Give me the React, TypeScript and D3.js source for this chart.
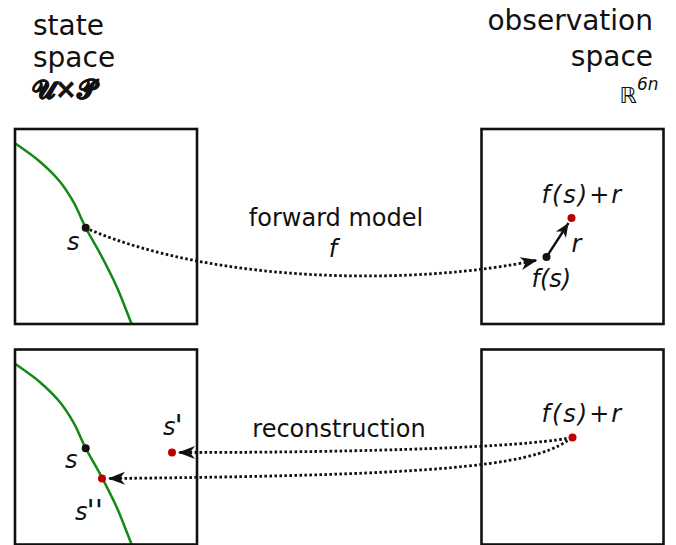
import React from 'react';
import * as d3 from 'd3';

// ---------- data ----------
// panel boxes: column / row in the 2x2 layout
const panels = [
  { id: 'stateTop', col: 0, row: 0 },
  { id: 'obsTop', col: 1, row: 0 },
  { id: 'stateBottom', col: 0, row: 1 },
  { id: 'obsBottom', col: 1, row: 1 },
];

// manifold (green curve) in panel-local units
const manifoldX = [0, 25, 45, 58.3, 70.7, 85, 101.7, 116.7, 124];
const manifoldY = [14.3, 32.7, 52.7, 72.7, 98.7, 124.3, 157.7, 195, 212];

// points: panel, local x, local y, kind
const pointPanel = ['stateTop', 'obsTop', 'obsTop', 'stateBottom', 'stateBottom', 'stateBottom', 'obsBottom'];
const pointName = ['s', 'fs', 'fsr', 's', 'sPrime', 'sDouble', 'fsr'];
const pointX = [70.7, 65, 90, 70.7, 157, 87, 91];
const pointY = [98.7, 128, 89, 98.7, 103, 129, 88];
const pointKind = ['state', 'state', 'obs', 'state', 'obs', 'obs', 'obs'];

// labels (base text + number of primes)
const labelText = ['s', 'f(s)+r', 'r', 'f(s)', 's', 's', 's', 'f(s)+r'];
const labelPrimes = [0, 0, 0, 0, 0, 1, 2, 0];
const labelPanel = ['stateTop', 'obsTop', 'obsTop', 'obsTop', 'stateBottom', 'stateBottom', 'stateBottom', 'obsBottom'];
const labelX = [52, 60, 90, 50, 50, 148, 60, 60];
const labelY = [121, 74, 123, 158, 118, 85, 170, 72];

export default function App() {
  const W = 676, H = 545;
  const boxW = 182, boxH = 195;
  const colX = [15, 481.5];
  const rowY = [129, 349.5];

  const scales: Record<string, { x: d3.ScaleLinear<number, number>; y: d3.ScaleLinear<number, number> }> = {};
  panels.forEach(p => {
    const x0 = colX[p.col], y0 = rowY[p.row];
    scales[p.id] = {
      x: d3.scaleLinear().domain([0, boxW]).range([x0, x0 + boxW]),
      y: d3.scaleLinear().domain([0, boxH]).range([y0, y0 + boxH]),
    };
  });

  const pt = (i: number): [number, number] => {
    const s = scales[pointPanel[i]];
    return [s.x(pointX[i]), s.y(pointY[i])];
  };

  const manifoldPts = manifoldX.map((x, i) => [x, manifoldY[i]] as [number, number]);
  const manifoldPath = (id: string) =>
    d3.line<[number, number]>()
      .x(d => scales[id].x(d[0]))
      .y(d => scales[id].y(d[1]))
      .curve(d3.curveCatmullRom)(manifoldPts) as string;

  const cubic = (p0: [number, number], c1: [number, number], c2: [number, number], p3: [number, number]) => {
    const p = d3.path();
    p.moveTo(p0[0], p0[1]);
    p.bezierCurveTo(c1[0], c1[1], c2[0], c2[1], p3[0], p3[1]);
    return p.toString();
  };

  const sTop = pt(0), fs = pt(1), fsr = pt(2);
  const sP = pt(4), sPP = pt(5), fsrB = pt(6);

  // forward model dotted arrow
  const fwdEnd: [number, number] = [fs[0] - 9, fs[1] + 3];
  const fwd = cubic([sTop[0] + 4, sTop[1] + 2], [sTop[0] + 134, sTop[1] + 57], [fwdEnd[0] - 118, fwdEnd[1] + 25], fwdEnd);
  // reconstruction arrows
  const rec1End: [number, number] = [sP[0] + 6, sP[1]];
  const rec1 = cubic([fsrB[0] - 6, fsrB[1] + 1], [fsrB[0] - 52, fsrB[1] + 9], [fsrB[0] - 190, sP[1]], rec1End);
  const rec2End: [number, number] = [sPP[0] + 6, sPP[1]];
  const rec2 = cubic([fsrB[0] - 5, fsrB[1] + 3], [fsrB[0] - 43, fsrB[1] + 30], [fsrB[0] - 150, sPP[1] - 3], rec2End);
  // residual arrow
  const rEnd: [number, number] = [fsr[0] - 3, fsr[1] + 5];

  const green = '#138a13';
  const red = '#c00000';
  const ink = '#111';
  const font = "'DejaVu Sans', Verdana, sans-serif";

  return (
    <svg width={W} height={H} viewBox={`0 0 ${W} ${H}`} style={{ position: 'absolute', left: 0, top: 0, background: '#fff' }}>
      <defs>
        <marker id="stealth" viewBox="-18 -8 20 16" refX={0} refY={0} markerWidth={20} markerHeight={16}
          markerUnits="userSpaceOnUse" orient="auto">
          <path d="M0,0 L-17,-6.5 L-12,0 L-17,6.5 Z" fill={ink} />
        </marker>
        <marker id="stealthSmall" viewBox="-16 -7 18 14" refX={0} refY={0} markerWidth={18} markerHeight={14}
          markerUnits="userSpaceOnUse" orient="auto">
          <path d="M0,0 L-14,-6 L-10,0 L-14,6 Z" fill={ink} />
        </marker>
        {panels.map(p => (
          <clipPath id={`clip-${p.id}`} key={p.id}>
            <rect x={colX[p.col]} y={rowY[p.row]} width={boxW} height={boxH} />
          </clipPath>
        ))}
      </defs>

      {/* titles */}
      <g fontFamily={font} fontSize={28} fill={ink}>
        <text x={33} y={35}>state</text>
        <text x={33} y={67}>space</text>
        <text x={32} y={98} fontWeight="bold" fontSize={26} stroke={ink} strokeWidth={0.6}>{'\u{1D4E4}\u00D7\u{1D4DF}'}</text>
        <text x={653} y={30} textAnchor="end">observation</text>
        <text x={653} y={66} textAnchor="end">space</text>
        <text x={637} y={103} textAnchor="end" fontSize={22}>{'\u211D'}</text>
        <text x={637} y={90} fontSize={17} fontStyle="italic">6n</text>
      </g>

      {/* manifolds */}
      {['stateTop', 'stateBottom'].map(id => (
        <path key={id} d={manifoldPath(id)} clipPath={`url(#clip-${id})`} fill="none" stroke={green} strokeWidth={2.5} />
      ))}

      {/* boxes */}
      {panels.map(p => (
        <rect key={p.id} x={colX[p.col]} y={rowY[p.row]} width={boxW} height={boxH}
          fill="none" stroke={ink} strokeWidth={2.6} />
      ))}

      {/* dotted arrows */}
      <g fill="none" stroke={ink} strokeWidth={2.8} strokeDasharray="2.6 2.4">
        <path d={fwd} markerEnd="url(#stealth)" />
        <path d={rec1} markerEnd="url(#stealth)" />
        <path d={rec2} markerEnd="url(#stealth)" />
      </g>
      {/* residual arrow */}
      <path d={`M${fs[0]},${fs[1]} L${rEnd[0]},${rEnd[1]}`} stroke={ink} strokeWidth={2.4} markerEnd="url(#stealthSmall)" />

      {/* points */}
      {pointX.map((_, i) => {
        const [x, y] = pt(i);
        return <circle key={i} cx={x} cy={y} r={4} fill={pointKind[i] === 'obs' ? red : ink} />;
      })}

      {/* labels */}
      <g fontFamily={font} fontSize={24} fontStyle="italic" fill={ink}>
        {labelText.map((t, i) => (
          <text key={i} x={scales[labelPanel[i]].x(labelX[i])} y={scales[labelPanel[i]].y(labelY[i])}
            letterSpacing={t.includes('+') ? 2 : 0}>
            {t}
            {labelPrimes[i] > 0 && (
              <tspan fontSize={30} dx={-1} dy={1} letterSpacing={0}>{"'".repeat(labelPrimes[i])}</tspan>
            )}
          </text>
        ))}
      </g>

      {/* arrow captions */}
      <g fontFamily={font} fontSize={24} fill={ink} textAnchor="middle">
        <text x={336} y={226}>forward model</text>
        <text x={333} y={257} fontStyle="italic">f</text>
        <text x={339} y={437}>reconstruction</text>
      </g>
    </svg>
  );
}
